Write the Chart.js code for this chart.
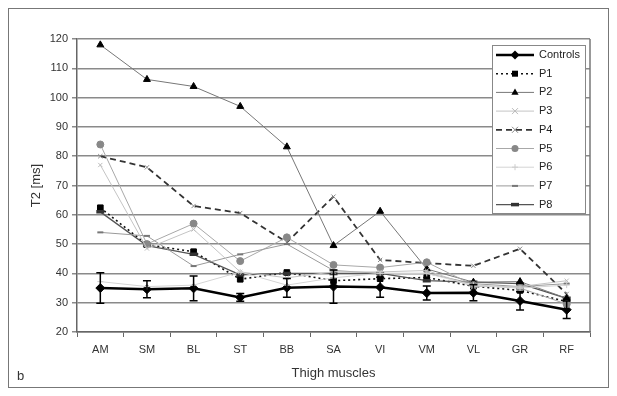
<!DOCTYPE html>
<html>
<head>
<meta charset="utf-8">
<script src="https://cdn.jsdelivr.net/npm/chart.js@4.4.1/dist/chart.umd.min.js"></script>
<style>
  body { margin: 0; background: #fff; }
  #wrap { position: relative; width: 617px; height: 396px; }
  #frame { position: absolute; left: 8px; top: 8px; width: 601px; height: 380px; border: 1px solid #777; box-sizing: border-box; pointer-events: none; }
</style>
</head>
<body>
<div id="wrap">
  <canvas id="chart" width="617" height="396"></canvas>
  <div id="frame"></div>
</div>
<script>
// Data
const muscles = ['AM', 'SM', 'BL', 'ST', 'BB', 'SA', 'VI', 'VM', 'VL', 'GR', 'RF'];
const controls   = [35, 34.6, 34.9, 31.8, 35.1, 35.5, 35.3, 33.3, 33.4, 30.6, 27.6];
const controlsSD = [5.2, 2.9, 4.2, 1.3, 3.2, 5.7, 3.4, 2.4, 2.7, 3.1, 3];
const p1 = [62.4, 49.8, 47.4, 38, 40.3, 37.5, 38.2, 38.6, 35.6, 34.2, 30.4];
const p2 = [118, 106.2, 103.8, 97, 83.2, 49.5, 61.2, 41.5, 37, 37.2, 31.5];
const p3 = [77, 48.5, 55, 40.5, 38.5, 40.5, 40.5, 41, 35.5, 35.5, 37.5];
const p4 = [80, 76.2, 63, 60.6, 50.6, 66.2, 44.6, 43.5, 42.6, 48.4, 33];
const p5 = [84, 50, 57, 44.2, 52.3, 42.9, 42, 43.8, 36, 35, 29.5];
const p6 = [37.2, 35.5, 36, 40.5, 36, 38.5, 40, 40, 36, 35, 36];
const p7 = [54, 52.8, 42.5, 46.5, 50, 41, 40, 40, 36.5, 35.5, 36.5];
const p8 = [61, 49.5, 46.5, 39.5, 40, 40, 40, 37.5, 37, 36.5, 31.5];
const yTicks = [20, 30, 40, 50, 60, 70, 80, 90, 100, 110, 120];

const FONT = 'Arial, "Liberation Sans", sans-serif';

function series(label, data, o) {
  return Object.assign({
    label, data,
    fill: false, tension: 0,
    pointBorderWidth: 1
  }, o);
}

const datasets = [
  series('P6', p6, { borderColor: '#d4d4d4', borderWidth: 1, pointStyle: 'cross', pointRadius: 3, pointBorderColor: '#ccc', pointBackgroundColor: '#ccc' }),
  series('P3', p3, { borderColor: '#c4c4c4', borderWidth: 1, pointStyle: 'crossRot', pointRadius: 3, pointBorderColor: '#bbb', pointBackgroundColor: '#bbb' }),
  series('P7', p7, { borderColor: '#9a9a9a', borderWidth: 1, pointStyle: 'line', pointRadius: 3, pointBorderWidth: 2, pointBorderColor: '#777', pointBackgroundColor: '#777' }),
  series('P5', p5, { borderColor: '#a8a8a8', borderWidth: 1, pointStyle: 'circle', pointRadius: 3.5, pointBorderColor: '#888', pointBackgroundColor: '#888' }),
  series('P2', p2, { borderColor: '#777', borderWidth: 1, pointStyle: 'triangle', pointRadius: 4, pointBorderColor: '#000', pointBackgroundColor: '#000' }),
  series('P8', p8, { borderColor: '#555', borderWidth: 1.3, pointStyle: 'line', pointRadius: 4, pointBorderWidth: 3.5, pointBorderColor: '#333', pointBackgroundColor: '#333' }),
  series('P4', p4, { borderColor: '#333', borderWidth: 1.8, borderDash: [6, 4], pointStyle: 'crossRot', pointRadius: 3, pointBorderColor: '#888', pointBackgroundColor: '#888' }),
  series('P1', p1, { borderColor: '#111', borderWidth: 1.6, borderDash: [2, 3], pointStyle: 'rect', pointRadius: 4, pointBorderColor: '#000', pointBackgroundColor: '#000' }),
  series('Controls', controls, { borderColor: '#000', borderWidth: 2.5, pointStyle: 'rectRot', pointRadius: 4.5, pointBorderColor: '#000', pointBackgroundColor: '#000' })
];
const legendOrder = ['Controls', 'P1', 'P2', 'P3', 'P4', 'P5', 'P6', 'P7', 'P8'];

// error bars for Controls, drawn through the scales
const errorBars = {
  id: 'errorBars',
  afterDatasetsDraw(chart) {
    const { ctx, scales: { x, y } } = chart;
    ctx.save();
    ctx.strokeStyle = '#000';
    ctx.lineWidth = 1.5;
    controls.forEach((v, i) => {
      const px = x.getPixelForValue(i);
      const top = y.getPixelForValue(v + controlsSD[i]);
      const bot = y.getPixelForValue(v - controlsSD[i]);
      ctx.beginPath();
      ctx.moveTo(px, top); ctx.lineTo(px, bot);
      ctx.moveTo(px - 4, top); ctx.lineTo(px + 4, top);
      ctx.moveTo(px - 4, bot); ctx.lineTo(px + 4, bot);
      ctx.stroke();
    });
    ctx.restore();
  }
};

function drawMarker(ctx, ds, cx, cy) {
  const r = ds.pointRadius;
  ctx.save();
  ctx.fillStyle = ds.pointBackgroundColor;
  ctx.strokeStyle = ds.pointBorderColor;
  ctx.lineWidth = ds.pointBorderWidth;
  ctx.beginPath();
  switch (ds.pointStyle) {
    case 'rectRot':
      ctx.moveTo(cx, cy - r); ctx.lineTo(cx + r, cy); ctx.lineTo(cx, cy + r); ctx.lineTo(cx - r, cy); ctx.closePath(); ctx.fill(); break;
    case 'rect':
      ctx.rect(cx - r * 0.75, cy - r * 0.75, r * 1.5, r * 1.5); ctx.fill(); break;
    case 'triangle':
      ctx.moveTo(cx, cy - r); ctx.lineTo(cx + r * 0.9, cy + r * 0.6); ctx.lineTo(cx - r * 0.9, cy + r * 0.6); ctx.closePath(); ctx.fill(); break;
    case 'circle':
      ctx.arc(cx, cy, r, 0, Math.PI * 2); ctx.fill(); break;
    case 'cross':
      ctx.moveTo(cx - r, cy); ctx.lineTo(cx + r, cy); ctx.moveTo(cx, cy - r); ctx.lineTo(cx, cy + r); ctx.stroke(); break;
    case 'crossRot':
      ctx.moveTo(cx - r, cy - r); ctx.lineTo(cx + r, cy + r); ctx.moveTo(cx + r, cy - r); ctx.lineTo(cx - r, cy + r); ctx.stroke(); break;
    case 'line':
      ctx.moveTo(cx - r, cy); ctx.lineTo(cx + r, cy); ctx.stroke(); break;
  }
  ctx.restore();
}

// legend box, axis titles, panel letter, right border
const decor = {
  id: 'decor',
  afterDraw(chart) {
    const { ctx, chartArea: ca } = chart;
    ctx.save();
    ctx.strokeStyle = '#777';
    ctx.lineWidth = 1.5;
    ctx.beginPath();
    ctx.moveTo(ca.right, ca.top); ctx.lineTo(ca.right, ca.bottom);
    ctx.stroke();

    // legend
    const lx = 492, ly = 45, lw = 93, lh = 168;
    ctx.fillStyle = '#fff';
    ctx.fillRect(lx, ly, lw, lh);
    ctx.strokeStyle = '#888';
    ctx.lineWidth = 1;
    ctx.strokeRect(lx + 0.5, ly + 0.5, lw, lh);
    ctx.font = '11px ' + FONT;
    ctx.textBaseline = 'middle';
    legendOrder.forEach((name, i) => {
      const ds = datasets.find(d => d.label === name);
      const yy = ly + 10 + i * 18.7;
      ctx.save();
      ctx.strokeStyle = ds.borderColor;
      ctx.lineWidth = ds.borderWidth;
      ctx.setLineDash(ds.borderDash || []);
      ctx.beginPath();
      ctx.moveTo(lx + 4, yy); ctx.lineTo(lx + 42, yy);
      ctx.stroke();
      ctx.restore();
      drawMarker(ctx, ds, lx + 23, yy);
      ctx.fillStyle = '#222';
      ctx.textAlign = 'left';
      ctx.fillText(name, lx + 47, yy);
    });

    // titles
    ctx.fillStyle = '#333';
    ctx.font = '13px ' + FONT;
    ctx.textAlign = 'center';
    ctx.fillText('Thigh muscles', (ca.left + ca.right) / 2, 373);
    ctx.save();
    ctx.translate(36, (ca.top + ca.bottom) / 2);
    ctx.rotate(-Math.PI / 2);
    ctx.fillText('T2 [ms]', 0, 0);
    ctx.restore();
    ctx.textAlign = 'left';
    ctx.font = '13px ' + FONT;
    ctx.fillText('b', 17, 376);
    ctx.restore();
  }
};

new Chart(document.getElementById('chart'), {
  type: 'line',
  data: { labels: muscles, datasets },
  options: {
    responsive: false,
    devicePixelRatio: 1,
    animation: false,
    layout: { padding: { left: 0, top: 39, right: 27, bottom: 0 } },
    plugins: { legend: { display: false }, tooltip: { enabled: false } },
    scales: {
      x: {
        offset: true,
        grid: { offset: true, drawOnChartArea: false, color: '#666', lineWidth: 1, tickLength: 5 },
        border: { color: '#666', width: 1.5 },
        ticks: { color: '#333', font: { family: FONT, size: 11 }, padding: 6, maxRotation: 0, autoSkip: false },
        afterFit(s) { s.height = 64; }
      },
      y: {
        min: 20, max: 120,
        afterBuildTicks(s) { s.ticks = yTicks.map(v => ({ value: v })); },
        grid: { color: '#8a8a8a', lineWidth: 1.5, tickLength: 5 },
        border: { color: '#666', width: 1.5 },
        ticks: { color: '#333', font: { family: FONT, size: 11 }, padding: 4 },
        afterFit(s) { s.width = 77; }
      }
    }
  },
  plugins: [errorBars, decor]
});
</script>
</body>
</html>
